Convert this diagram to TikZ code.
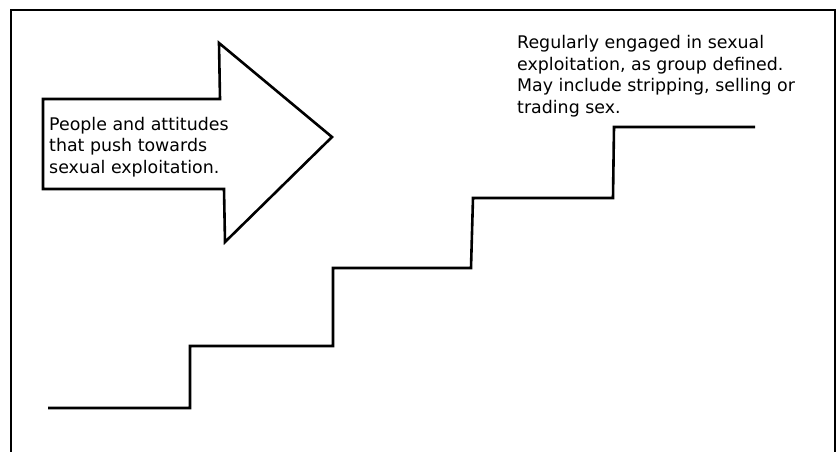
\documentclass[tikz,border=0pt]{standalone}
\usepackage{fontspec}
\setmainfont{DejaVu Sans}
\begin{document}
\begin{tikzpicture}[x=1pt,y=-1pt,
  stroke/.style={line width=2.6pt,line join=miter,black},
  label/.style={anchor=base west,inner sep=0pt,align=left,font=\fontsize{17.4}{21.4}\selectfont}]
\useasboundingbox (0,0) rectangle (838,452);
\fill[white] (0,0) rectangle (838,452);
% frame (open at bottom)
\draw[line width=2.4pt] (11,460) -- (11,10) -- (835,10) -- (835,460);
% arrow
\draw[stroke,fill=white] (43,99) -- (220,99) -- (219,43) -- (332,137) -- (225,242) -- (224,189) -- (43,189) -- cycle;
\node[label] (push) at (49,173) {People and attitudes\\that push towards\\sexual exploitation.};
% stairs
\draw[stroke] (48,408) -- (190,408) -- (190,346) -- (333,346) -- (333,268) -- (471,268) -- (473,198) -- (613,198) -- (614,127) -- (755,127);
\node[label] (top) at (517,113) {Regularly engaged in sexual\\exploitation, as group defined.\\May include stripping, selling or\\trading sex.};
\end{tikzpicture}
\end{document}
